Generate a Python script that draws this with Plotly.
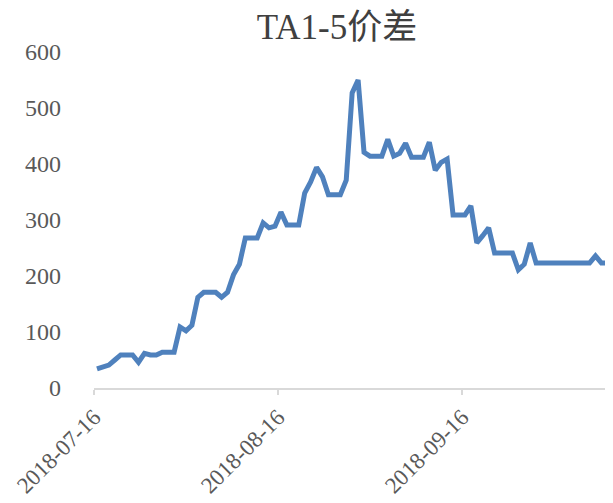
import pandas as pd
import plotly.graph_objects as go


title_text = "TA1-5价差"
start_date = "2018-07-16"

# daily spread values (weekends / holidays carried forward)
spread = [
    34, 37, 41, 50, 59, 59, 59,
    46, 62, 59, 59, 64, 64, 64,
    109, 102, 112, 162, 171, 171, 171,
    162, 171, 202, 221, 268, 268, 268,
    295, 286, 289, 314, 291, 291, 291,
    348, 368, 394, 377, 345, 345, 345,
    371, 527, 550, 421, 414, 414, 414,
    444, 414, 419, 437, 412, 412, 412,
    439, 389, 403, 409, 309, 309, 309,
    325, 259, 272, 286, 241, 241, 241,
    241, 211, 221, 259, 223, 223, 223,
    223, 223, 223, 223, 223, 223, 223,
    236, 223, 223, 223, 223,
]
dates = pd.date_range(start_date, periods=len(spread), freq="D")

y_ticks = [0, 100, 200, 300, 400, 500, 600]

# the page body adds an 8px offset, so the figure is 8px smaller each way
W, H = 605, 495

fig = go.Figure()
fig.add_trace(go.Scatter(x=dates, y=spread, mode="lines",
                         xperiod=86400000, xperiodalignment="middle",
                         line=dict(color="#4F81BD", width=5),
                         hoverinfo="x+y", showlegend=False))

fig.update_layout(
    width=W, height=H,
    margin=dict(l=86, r=0, t=44, b=115),
    paper_bgcolor="white", plot_bgcolor="white",
    title=dict(text=title_text, x=329 / W, xref="container", xanchor="center",
               y=1 - 19 / H, yref="container", yanchor="middle",
               font=dict(family="Liberation Serif, Noto Sans CJK SC", size=35, color="#404040")),
    font=dict(family="Liberation Serif, Noto Sans CJK SC", color="#595959"),
)

fig.update_xaxes(
    type="date", automargin=False,
    range=["2018-07-16", "2018-10-11 10:48"],
    tick0="2018-07-16", dtick="M1", tickformat="%Y-%m-%d",
    tickangle=-45, tickfont=dict(size=23, color="#595959"),
    showline=True, linecolor="#D9D9D9", linewidth=1.5,
    ticks="outside", ticklen=5, tickcolor="#D9D9D9", tickwidth=1.5,
    showgrid=False, zeroline=False,
)
fig.update_yaxes(
    range=[0, 600], tickvals=y_ticks, automargin=False,
    tickfont=dict(size=24, color="#595959"),
    showline=False, ticks="", showgrid=False, zeroline=False,
    ticklabelstandoff=32,
)

fig.write_html("out.html")
